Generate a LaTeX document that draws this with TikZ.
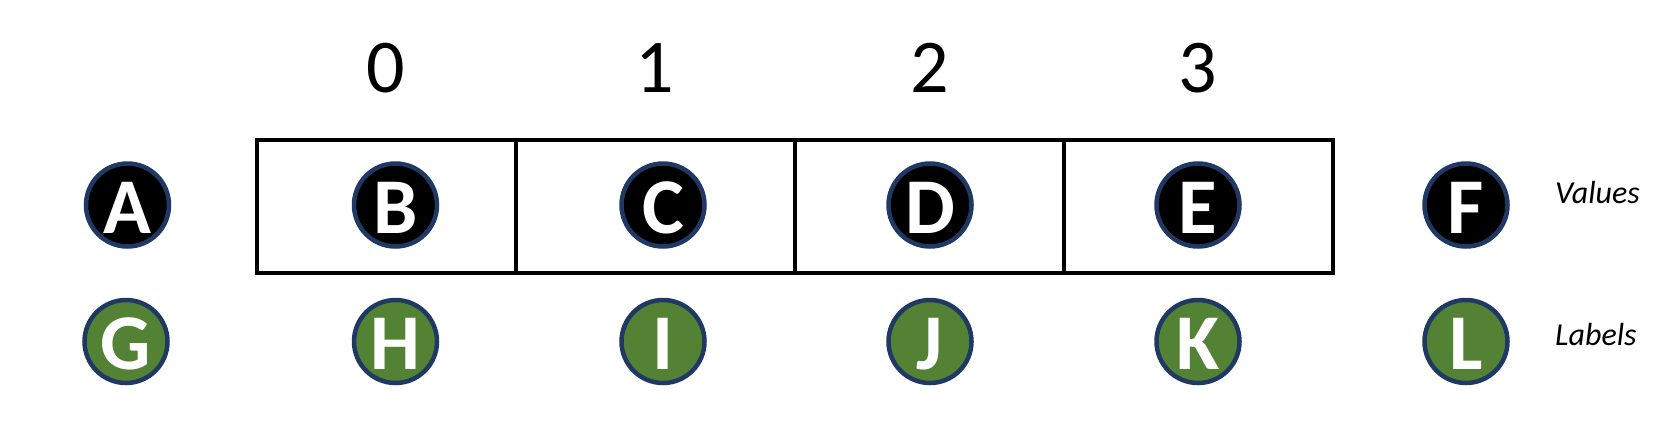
\documentclass[tikz,border=0pt]{standalone}
\usepackage{fontspec}
\setmainfont{Carlito}
\definecolor{navy}{HTML}{1F3864}
\definecolor{vgreen}{HTML}{548235}
\tikzset{
  ball/.style={circle, draw=navy, line width=4.5pt, inner sep=0pt, minimum size=83pt,
    text=white, font=\fontsize{79}{79}\selectfont\bfseries, text height=56pt, text depth=0pt},
  valball/.style={ball, fill=black},
  labball/.style={ball, fill=vgreen},
  cell/.style={draw=black, line width=3.5pt, inner sep=0pt, minimum height=133pt},
  idx/.style={anchor=base, font=\fontsize{76}{76}\selectfont},
  legend/.style={anchor=base west, inner sep=0pt, font=\fontsize{32}{32}\selectfont\itshape}
}
\begin{document}
\begin{tikzpicture}[x=1pt,y=-1pt]
\useasboundingbox (0,0) rectangle (1676,440);
% array cells
\node[cell, minimum width=259pt] (c0) at (386.5,206.5) {};
\node[cell, minimum width=279pt] (c1) at (655.5,206.5) {};
\node[cell, minimum width=269pt] (c2) at (929.5,206.5) {};
\node[cell, minimum width=269pt] (c3) at (1198.5,206.5) {};
% indices
\node[idx] (n0) at (386,92) {0};
\node[idx] (n1) at (655,92) {1};
\node[idx] (n2) at (929.5,92) {2};
\node[idx] (n3) at (1198,92) {3};
% values row
\node[valball] (A) at (127.5,205) {A};
\node[valball] (B) at (395.5,205) {B};
\node[valball] (C) at (663,205) {C};
\node[valball] (D) at (930,205) {D};
\node[valball] (E) at (1198,205) {E};
\node[valball] (F) at (1466,205) {F};
% labels row
\node[labball] (G) at (126,341.5) {G};
\node[labball] (H) at (395.5,341.5) {H};
\node[labball] (I) at (663,341.5) {I};
\node[labball] (J) at (930,341.5) {J};
\node[labball] (K) at (1198,341.5) {K};
\node[labball] (L) at (1466,341.5) {L};
% legend
\node[legend] (vals) at (1555,203) {Values};
\node[legend] (labs) at (1555,345) {Labels};
\end{tikzpicture}
\end{document}
